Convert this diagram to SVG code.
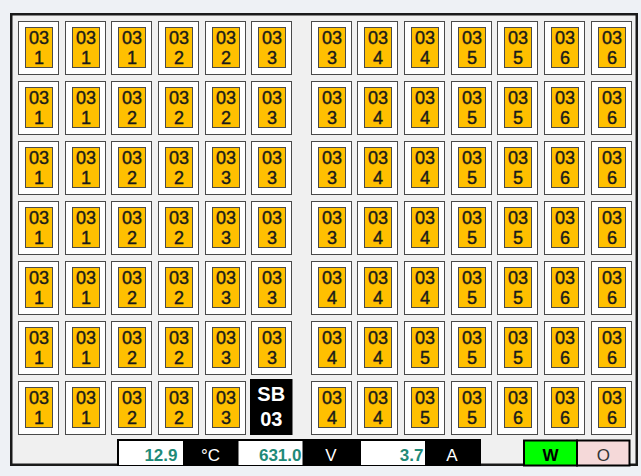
<svg xmlns="http://www.w3.org/2000/svg" width="641" height="476" viewBox="0 0 641 476">
<style>
.o{fill:#ffffff;stroke:#4a4a4a;stroke-width:1}
.y{fill:#ffc000;stroke:#4a4a4a;stroke-width:1}
.t{font-family:"Liberation Sans",Arial,sans-serif;font-size:18px;fill:#1a1a1a;stroke:#1a1a1a;stroke-width:0.4;text-anchor:middle}
.sb{font-family:"Liberation Sans",Arial,sans-serif;font-size:20px;font-weight:bold;fill:#ffffff;text-anchor:middle}
.v{font-family:"Liberation Sans",Arial,sans-serif;font-size:17px;font-weight:bold;fill:#1f8a78;text-anchor:end}
.u{font-family:"Liberation Sans",Arial,sans-serif;font-size:17px;fill:#ffffff;text-anchor:middle}
</style>
<defs>
<g id="cell">
<rect class="o" x="0.5" y="0.5" width="40" height="53"/>
<rect class="y" x="7.5" y="6.5" width="27" height="40"/>
<text class="t" x="21" y="22.5">03</text>
</g>
</defs>
<rect x="0" y="0" width="641" height="476" fill="#eef1f5"/>
<rect x="11.25" y="14.25" width="625.5" height="450.5" fill="#f0f0f0" stroke="#1a1a1a" stroke-width="2.5"/>
<g id="nodes">
<g id="r1c1" transform="translate(18,21)"><use href="#cell"/><text class="t" x="21" y="43">1</text></g>
<g id="r1c2" transform="translate(65,21)"><use href="#cell"/><text class="t" x="21" y="43">1</text></g>
<g id="r1c3" transform="translate(111,21)"><use href="#cell"/><text class="t" x="21" y="43">1</text></g>
<g id="r1c4" transform="translate(158,21)"><use href="#cell"/><text class="t" x="21" y="43">2</text></g>
<g id="r1c5" transform="translate(205,21)"><use href="#cell"/><text class="t" x="21" y="43">2</text></g>
<g id="r1c6" transform="translate(251,21)"><use href="#cell"/><text class="t" x="21" y="43">3</text></g>
<g id="r1c7" transform="translate(311,21)"><use href="#cell"/><text class="t" x="21" y="43">3</text></g>
<g id="r1c8" transform="translate(357,21)"><use href="#cell"/><text class="t" x="21" y="43">4</text></g>
<g id="r1c9" transform="translate(404,21)"><use href="#cell"/><text class="t" x="21" y="43">4</text></g>
<g id="r1c10" transform="translate(451,21)"><use href="#cell"/><text class="t" x="21" y="43">5</text></g>
<g id="r1c11" transform="translate(497,21)"><use href="#cell"/><text class="t" x="21" y="43">5</text></g>
<g id="r1c12" transform="translate(544,21)"><use href="#cell"/><text class="t" x="21" y="43">6</text></g>
<g id="r1c13" transform="translate(591,21)"><use href="#cell"/><text class="t" x="21" y="43">6</text></g>

<g id="r2c1" transform="translate(18,81)"><use href="#cell"/><text class="t" x="21" y="43">1</text></g>
<g id="r2c2" transform="translate(65,81)"><use href="#cell"/><text class="t" x="21" y="43">1</text></g>
<g id="r2c3" transform="translate(111,81)"><use href="#cell"/><text class="t" x="21" y="43">2</text></g>
<g id="r2c4" transform="translate(158,81)"><use href="#cell"/><text class="t" x="21" y="43">2</text></g>
<g id="r2c5" transform="translate(205,81)"><use href="#cell"/><text class="t" x="21" y="43">2</text></g>
<g id="r2c6" transform="translate(251,81)"><use href="#cell"/><text class="t" x="21" y="43">3</text></g>
<g id="r2c7" transform="translate(311,81)"><use href="#cell"/><text class="t" x="21" y="43">3</text></g>
<g id="r2c8" transform="translate(357,81)"><use href="#cell"/><text class="t" x="21" y="43">4</text></g>
<g id="r2c9" transform="translate(404,81)"><use href="#cell"/><text class="t" x="21" y="43">4</text></g>
<g id="r2c10" transform="translate(451,81)"><use href="#cell"/><text class="t" x="21" y="43">5</text></g>
<g id="r2c11" transform="translate(497,81)"><use href="#cell"/><text class="t" x="21" y="43">5</text></g>
<g id="r2c12" transform="translate(544,81)"><use href="#cell"/><text class="t" x="21" y="43">6</text></g>
<g id="r2c13" transform="translate(591,81)"><use href="#cell"/><text class="t" x="21" y="43">6</text></g>

<g id="r3c1" transform="translate(18,141)"><use href="#cell"/><text class="t" x="21" y="43">1</text></g>
<g id="r3c2" transform="translate(65,141)"><use href="#cell"/><text class="t" x="21" y="43">1</text></g>
<g id="r3c3" transform="translate(111,141)"><use href="#cell"/><text class="t" x="21" y="43">2</text></g>
<g id="r3c4" transform="translate(158,141)"><use href="#cell"/><text class="t" x="21" y="43">2</text></g>
<g id="r3c5" transform="translate(205,141)"><use href="#cell"/><text class="t" x="21" y="43">3</text></g>
<g id="r3c6" transform="translate(251,141)"><use href="#cell"/><text class="t" x="21" y="43">3</text></g>
<g id="r3c7" transform="translate(311,141)"><use href="#cell"/><text class="t" x="21" y="43">3</text></g>
<g id="r3c8" transform="translate(357,141)"><use href="#cell"/><text class="t" x="21" y="43">4</text></g>
<g id="r3c9" transform="translate(404,141)"><use href="#cell"/><text class="t" x="21" y="43">4</text></g>
<g id="r3c10" transform="translate(451,141)"><use href="#cell"/><text class="t" x="21" y="43">5</text></g>
<g id="r3c11" transform="translate(497,141)"><use href="#cell"/><text class="t" x="21" y="43">5</text></g>
<g id="r3c12" transform="translate(544,141)"><use href="#cell"/><text class="t" x="21" y="43">6</text></g>
<g id="r3c13" transform="translate(591,141)"><use href="#cell"/><text class="t" x="21" y="43">6</text></g>

<g id="r4c1" transform="translate(18,201)"><use href="#cell"/><text class="t" x="21" y="43">1</text></g>
<g id="r4c2" transform="translate(65,201)"><use href="#cell"/><text class="t" x="21" y="43">1</text></g>
<g id="r4c3" transform="translate(111,201)"><use href="#cell"/><text class="t" x="21" y="43">2</text></g>
<g id="r4c4" transform="translate(158,201)"><use href="#cell"/><text class="t" x="21" y="43">2</text></g>
<g id="r4c5" transform="translate(205,201)"><use href="#cell"/><text class="t" x="21" y="43">3</text></g>
<g id="r4c6" transform="translate(251,201)"><use href="#cell"/><text class="t" x="21" y="43">3</text></g>
<g id="r4c7" transform="translate(311,201)"><use href="#cell"/><text class="t" x="21" y="43">3</text></g>
<g id="r4c8" transform="translate(357,201)"><use href="#cell"/><text class="t" x="21" y="43">4</text></g>
<g id="r4c9" transform="translate(404,201)"><use href="#cell"/><text class="t" x="21" y="43">4</text></g>
<g id="r4c10" transform="translate(451,201)"><use href="#cell"/><text class="t" x="21" y="43">5</text></g>
<g id="r4c11" transform="translate(497,201)"><use href="#cell"/><text class="t" x="21" y="43">5</text></g>
<g id="r4c12" transform="translate(544,201)"><use href="#cell"/><text class="t" x="21" y="43">6</text></g>
<g id="r4c13" transform="translate(591,201)"><use href="#cell"/><text class="t" x="21" y="43">6</text></g>

<g id="r5c1" transform="translate(18,261)"><use href="#cell"/><text class="t" x="21" y="43">1</text></g>
<g id="r5c2" transform="translate(65,261)"><use href="#cell"/><text class="t" x="21" y="43">1</text></g>
<g id="r5c3" transform="translate(111,261)"><use href="#cell"/><text class="t" x="21" y="43">2</text></g>
<g id="r5c4" transform="translate(158,261)"><use href="#cell"/><text class="t" x="21" y="43">2</text></g>
<g id="r5c5" transform="translate(205,261)"><use href="#cell"/><text class="t" x="21" y="43">3</text></g>
<g id="r5c6" transform="translate(251,261)"><use href="#cell"/><text class="t" x="21" y="43">3</text></g>
<g id="r5c7" transform="translate(311,261)"><use href="#cell"/><text class="t" x="21" y="43">4</text></g>
<g id="r5c8" transform="translate(357,261)"><use href="#cell"/><text class="t" x="21" y="43">4</text></g>
<g id="r5c9" transform="translate(404,261)"><use href="#cell"/><text class="t" x="21" y="43">4</text></g>
<g id="r5c10" transform="translate(451,261)"><use href="#cell"/><text class="t" x="21" y="43">5</text></g>
<g id="r5c11" transform="translate(497,261)"><use href="#cell"/><text class="t" x="21" y="43">5</text></g>
<g id="r5c12" transform="translate(544,261)"><use href="#cell"/><text class="t" x="21" y="43">6</text></g>
<g id="r5c13" transform="translate(591,261)"><use href="#cell"/><text class="t" x="21" y="43">6</text></g>

<g id="r6c1" transform="translate(18,321)"><use href="#cell"/><text class="t" x="21" y="43">1</text></g>
<g id="r6c2" transform="translate(65,321)"><use href="#cell"/><text class="t" x="21" y="43">1</text></g>
<g id="r6c3" transform="translate(111,321)"><use href="#cell"/><text class="t" x="21" y="43">2</text></g>
<g id="r6c4" transform="translate(158,321)"><use href="#cell"/><text class="t" x="21" y="43">2</text></g>
<g id="r6c5" transform="translate(205,321)"><use href="#cell"/><text class="t" x="21" y="43">3</text></g>
<g id="r6c6" transform="translate(251,321)"><use href="#cell"/><text class="t" x="21" y="43">3</text></g>
<g id="r6c7" transform="translate(311,321)"><use href="#cell"/><text class="t" x="21" y="43">4</text></g>
<g id="r6c8" transform="translate(357,321)"><use href="#cell"/><text class="t" x="21" y="43">4</text></g>
<g id="r6c9" transform="translate(404,321)"><use href="#cell"/><text class="t" x="21" y="43">5</text></g>
<g id="r6c10" transform="translate(451,321)"><use href="#cell"/><text class="t" x="21" y="43">5</text></g>
<g id="r6c11" transform="translate(497,321)"><use href="#cell"/><text class="t" x="21" y="43">5</text></g>
<g id="r6c12" transform="translate(544,321)"><use href="#cell"/><text class="t" x="21" y="43">6</text></g>
<g id="r6c13" transform="translate(591,321)"><use href="#cell"/><text class="t" x="21" y="43">6</text></g>

<g id="r7c1" transform="translate(18,381)"><use href="#cell"/><text class="t" x="21" y="43">1</text></g>
<g id="r7c2" transform="translate(65,381)"><use href="#cell"/><text class="t" x="21" y="43">1</text></g>
<g id="r7c3" transform="translate(111,381)"><use href="#cell"/><text class="t" x="21" y="43">2</text></g>
<g id="r7c4" transform="translate(158,381)"><use href="#cell"/><text class="t" x="21" y="43">2</text></g>
<g id="r7c5" transform="translate(205,381)"><use href="#cell"/><text class="t" x="21" y="43">3</text></g>
<g id="sb03" transform="translate(250,379)"><rect x="0" y="0" width="42.5" height="56" fill="#000000"/><text class="sb" x="21.25" y="21.5">SB</text><text class="sb" x="21.25" y="47">03</text></g>
<g id="r7c7" transform="translate(311,381)"><use href="#cell"/><text class="t" x="21" y="43">4</text></g>
<g id="r7c8" transform="translate(357,381)"><use href="#cell"/><text class="t" x="21" y="43">4</text></g>
<g id="r7c9" transform="translate(404,381)"><use href="#cell"/><text class="t" x="21" y="43">5</text></g>
<g id="r7c10" transform="translate(451,381)"><use href="#cell"/><text class="t" x="21" y="43">5</text></g>
<g id="r7c11" transform="translate(497,381)"><use href="#cell"/><text class="t" x="21" y="43">6</text></g>
<g id="r7c12" transform="translate(544,381)"><use href="#cell"/><text class="t" x="21" y="43">6</text></g>
<g id="r7c13" transform="translate(591,381)"><use href="#cell"/><text class="t" x="21" y="43">6</text></g>
</g>
<g id="statusbar">
<rect x="117" y="439" width="364" height="27" fill="#000000"/>
<rect x="119" y="441" width="64" height="24" fill="#ffffff"/>
<rect x="238.5" y="441" width="64" height="24" fill="#ffffff"/>
<rect x="361" y="441" width="64" height="24" fill="#ffffff"/>
<text class="v" x="177.5" y="460.5">12.9</text>
<text class="u" x="210.5" y="460.5">°C</text>
<text class="v" x="301.5" y="460.5">631.0</text>
<text class="u" x="331" y="460.5">V</text>
<text class="v" x="423.5" y="460.5">3.7</text>
<text class="u" x="452" y="460.5">A</text>
</g>
<g id="status-w"><rect x="524" y="440.5" width="53" height="25" fill="#00ff00" stroke="#000000" stroke-width="2"/><text x="550.5" y="461" font-family="Liberation Sans, Arial, sans-serif" font-size="17" font-weight="bold" fill="#000000" text-anchor="middle">W</text></g>
<g id="status-o"><rect x="577" y="440.5" width="52.5" height="25" fill="#f5d9d9" stroke="#000000" stroke-width="2"/><text x="603.25" y="461" font-family="Liberation Sans, Arial, sans-serif" font-size="17" fill="#333333" text-anchor="middle">O</text></g>
<g id="connectors"/>
</svg>
